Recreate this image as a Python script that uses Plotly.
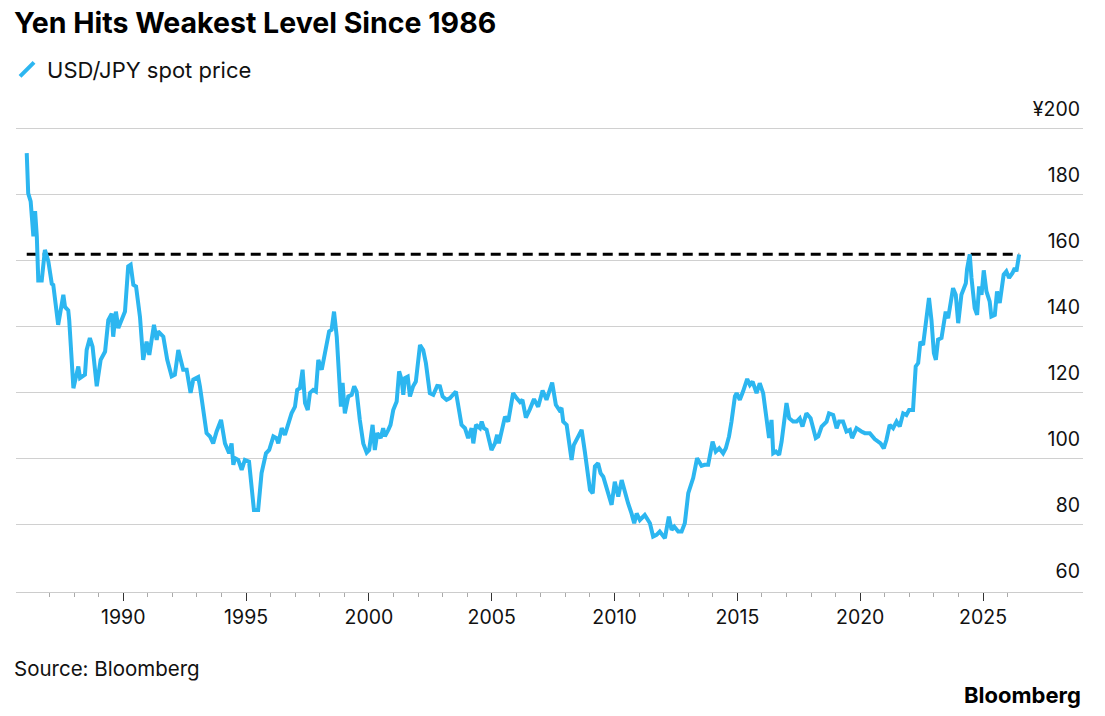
import plotly.graph_objects as go

# ---- data ----
years = [
    1986.07, 1986.13, 1986.23, 1986.34, 1986.41, 1986.48, 1986.54, 1986.68, 1986.81, 1986.95,
    1987.09, 1987.15, 1987.35, 1987.56, 1987.63, 1987.76, 1987.80, 1987.97, 1988.17, 1988.24,
    1988.44, 1988.51, 1988.64, 1988.75, 1988.92, 1989.08, 1989.26, 1989.39, 1989.53, 1989.59,
    1989.70, 1989.80, 1990.07, 1990.20, 1990.30, 1990.41, 1990.52, 1990.68, 1990.81, 1990.95,
    1991.06, 1991.25, 1991.36, 1991.42, 1991.63, 1991.79, 1991.97, 1992.10, 1992.24, 1992.44,
    1992.58, 1992.74, 1992.85, 1993.05, 1993.12, 1993.39, 1993.53, 1993.66, 1993.80, 1993.98,
    1994.14, 1994.31, 1994.41, 1994.48, 1994.55, 1994.68, 1994.82, 1994.95, 1995.12, 1995.23,
    1995.32, 1995.49, 1995.63, 1995.81, 1995.94, 1996.11, 1996.24, 1996.31, 1996.45, 1996.58,
    1996.72, 1996.85, 1996.99, 1997.08, 1997.19, 1997.30, 1997.40, 1997.51, 1997.60, 1997.73,
    1997.84, 1997.94, 1998.08, 1998.25, 1998.38, 1998.48, 1998.58, 1998.69, 1998.79, 1998.86,
    1998.93, 1999.02, 1999.16, 1999.30, 1999.40, 1999.50, 1999.63, 1999.77, 1999.91, 2000.01,
    2000.15, 2000.24, 2000.34, 2000.48, 2000.58, 2000.65, 2000.79, 2000.88, 2000.99, 2001.13,
    2001.23, 2001.33, 2001.40, 2001.47, 2001.58, 2001.67, 2001.80, 2001.91, 2002.08, 2002.21,
    2002.32, 2002.48, 2002.62, 2002.78, 2002.89, 2003.00, 2003.16, 2003.30, 2003.54, 2003.77,
    2003.91, 2004.04, 2004.18, 2004.25, 2004.36, 2004.52, 2004.59, 2004.68, 2004.79, 2004.99,
    2005.13, 2005.22, 2005.29, 2005.44, 2005.54, 2005.67, 2005.87, 2006.01, 2006.15, 2006.25,
    2006.39, 2006.55, 2006.72, 2006.89, 2007.07, 2007.23, 2007.46, 2007.61, 2007.75, 2007.84,
    2007.91, 2008.05, 2008.25, 2008.34, 2008.45, 2008.66, 2008.79, 2009.00, 2009.11, 2009.20,
    2009.33, 2009.43, 2009.54, 2009.67, 2009.78, 2009.88, 2010.01, 2010.15, 2010.29, 2010.42,
    2010.55, 2010.69, 2010.80, 2010.90, 2011.03, 2011.23, 2011.44, 2011.57, 2011.71, 2011.84,
    2012.05, 2012.21, 2012.32, 2012.43, 2012.59, 2012.73, 2012.86, 2013.00, 2013.13, 2013.20,
    2013.36, 2013.54, 2013.66, 2013.81, 2013.99, 2014.12, 2014.26, 2014.42, 2014.53, 2014.66,
    2014.76, 2014.90, 2014.97, 2015.10, 2015.23, 2015.40, 2015.51, 2015.62, 2015.78, 2015.91,
    2016.05, 2016.19, 2016.29, 2016.39, 2016.46, 2016.57, 2016.70, 2016.80, 2016.93, 2017.00,
    2017.11, 2017.27, 2017.41, 2017.54, 2017.65, 2017.81, 2017.98, 2018.19, 2018.29, 2018.43,
    2018.63, 2018.73, 2018.90, 2019.04, 2019.14, 2019.30, 2019.44, 2019.58, 2019.67, 2019.85,
    2020.05, 2020.19, 2020.39, 2020.59, 2020.83, 2020.96, 2021.07, 2021.20, 2021.34, 2021.48,
    2021.61, 2021.75, 2021.88, 2021.99, 2022.15, 2022.26, 2022.36, 2022.45, 2022.56, 2022.67,
    2022.80, 2022.90, 2023.00, 2023.08, 2023.17, 2023.31, 2023.48, 2023.58, 2023.78, 2023.89,
    2023.99, 2024.12, 2024.30, 2024.35, 2024.46, 2024.53, 2024.66, 2024.76, 2024.84, 2024.94,
    2025.03, 2025.14, 2025.27, 2025.34, 2025.48, 2025.57, 2025.68, 2025.84, 2025.95, 2026.06,
    2026.20, 2026.29, 2026.36, 2026.47,
]
usdjpy = [
    192.6, 180.4, 178.0, 167.4, 175.0, 167.4, 154.0, 154.0, 163.3, 159.8,
    153.0, 152.7, 140.6, 149.7, 146.0, 145.0, 142.0, 121.4, 128.0, 124.5,
    125.5, 133.0, 136.6, 134.0, 122.0, 130.0, 132.5, 142.0, 144.0, 137.0,
    144.6, 139.6, 144.6, 158.3, 158.8, 152.7, 152.2, 143.0, 130.0, 135.5,
    131.5, 140.6, 136.0, 138.6, 137.0, 130.0, 125.0, 125.5, 133.0, 127.0,
    127.0, 120.0, 124.0, 124.8, 122.0, 107.8, 106.8, 104.7, 108.3, 111.8,
    104.7, 101.7, 104.7, 98.2, 100.2, 99.7, 96.7, 99.7, 99.2, 90.6,
    84.5, 84.5, 95.7, 101.7, 102.7, 106.8, 106.3, 104.7, 109.3, 107.3,
    110.8, 113.8, 115.8, 120.9, 121.4, 127.0, 116.9, 114.8, 120.0, 120.9,
    120.4, 130.0, 127.0, 133.0, 138.6, 139.1, 144.6, 137.0, 124.0, 115.8,
    123.0, 113.8, 118.9, 119.4, 122.0, 120.4, 111.8, 104.7, 101.9, 102.7,
    110.3, 102.7, 107.8, 106.3, 109.3, 106.8, 108.8, 110.3, 114.8, 117.4,
    126.5, 124.0, 119.4, 124.5, 124.9, 118.9, 122.0, 123.4, 134.5, 133.0,
    129.0, 119.9, 119.4, 122.1, 122.0, 118.9, 117.9, 118.4, 120.4, 110.3,
    109.3, 106.3, 109.3, 104.7, 110.3, 109.3, 111.3, 109.3, 108.8, 102.7,
    104.7, 107.3, 104.7, 109.8, 112.8, 111.3, 119.9, 118.4, 117.2, 117.9,
    112.5, 115.0, 118.1, 115.8, 120.7, 117.9, 123.1, 116.4, 114.8, 115.4,
    111.3, 110.3, 99.7, 104.2, 105.8, 108.8, 102.2, 90.6, 89.6, 97.7,
    98.7, 95.7, 94.6, 91.1, 89.1, 86.1, 93.1, 88.6, 93.6, 89.6,
    86.6, 83.5, 80.5, 83.5, 81.5, 83.0, 80.5, 76.5, 77.0, 78.0,
    76.0, 82.5, 78.5, 79.5, 78.0, 78.0, 80.5, 89.6, 92.1, 94.2,
    100.2, 97.9, 98.2, 98.2, 105.2, 102.2, 103.2, 101.7, 103.2, 106.8,
    111.3, 118.9, 119.9, 117.9, 120.4, 124.2, 122.4, 123.4, 119.9, 122.9,
    119.9, 112.3, 106.3, 111.8, 101.7, 102.2, 101.2, 105.2, 113.8, 116.9,
    112.3, 111.3, 111.3, 112.3, 109.8, 113.8, 112.3, 106.3, 106.8, 109.8,
    111.3, 113.8, 113.3, 109.3, 111.3, 111.3, 108.3, 108.8, 106.3, 109.3,
    108.3, 107.8, 107.8, 106.0, 104.7, 103.2, 105.8, 110.3, 109.3, 111.3,
    109.8, 113.8, 113.3, 114.8, 114.8, 128.0, 129.0, 135.5, 134.5, 140.1,
    148.7, 142.1, 132.0, 130.0, 136.1, 136.6, 144.6, 142.6, 151.7, 149.7,
    141.1, 149.7, 153.2, 157.5, 161.9, 154.8, 145.7, 143.6, 152.2, 149.7,
    157.1, 150.7, 147.7, 143.1, 143.6, 150.7, 147.2, 155.8, 156.8, 154.8,
    156.3, 157.8, 156.8, 161.9,
]
prev_high = 161.95
y_ticks = [60, 80, 100, 120, 140, 160, 180, 200]
y_tick_labels = ["60", "80", "100", "120", "140", "160", "180", "¥200"]
x_major = [1990, 1995, 2000, 2005, 2010, 2015, 2020, 2025]
x_minor = [y for y in range(1987, 2027) if y % 5 != 0]

BLUE = "#2cb6f0"
FONT = "Inter"

fig = go.Figure()
fig.add_trace(go.Scatter(
    x=[years[0], years[-1]], y=[prev_high, prev_high], mode="lines",
    line=dict(color="#000000", width=3, dash="10px,6px"),
    showlegend=False, hoverinfo="skip"))
fig.add_trace(go.Scatter(
    x=years, y=usdjpy, mode="lines",
    line=dict(color=BLUE, width=4), showlegend=False))
fig.add_trace(go.Scatter(
    x=[None], y=[None], mode="markers", name="USD/JPY spot price",
    marker=dict(symbol="line-ne", size=14, color=BLUE,
                line=dict(color=BLUE, width=4)),
    showlegend=True))

fig.update_layout(
    width=1105, height=716,
    margin=dict(l=16, r=22, t=89.4, b=124, autoexpand=False),
    paper_bgcolor="white", plot_bgcolor="white",
    font=dict(family=FONT, color="#111111", size=19),
    legend=dict(x=-0.0084, y=1.0386, xanchor="left", yanchor="middle",
                font=dict(size=22, family=FONT, color="#111111"),
                bgcolor="rgba(0,0,0,0)", itemwidth=30),
    xaxis=dict(range=[1985.633, 2029.07], showgrid=False, zeroline=False,
               showline=True, linecolor="#cccccc", linewidth=1,
               tickmode="array", tickvals=x_major,
               ticktext=[str(v) for v in x_major],
               ticks="outside", ticklen=8, tickcolor="#333333", tickwidth=1,
               tickfont=dict(size=19.5, family=FONT, color="#111111"),
               minor=dict(tickmode="array", tickvals=x_minor, ticks="outside",
                          ticklen=4, tickcolor="#aaaaaa", tickwidth=1,
                          showgrid=False)),
    yaxis=dict(range=[59.7, 212], side="right", showgrid=True,
               gridcolor="#d0d0d0", gridwidth=1, zeroline=False,
               tickmode="array", tickvals=y_ticks, ticktext=y_tick_labels,
               ticklabelposition="inside top", ticklabelshift=-6, ticks="",
               tickfont=dict(size=19.5, family=FONT, color="#111111")),
    annotations=[
        dict(text="<b>Yen Hits Weakest Level Since 1986</b>", xref="paper", yref="paper",
             x=-0.0033, y=1.1321, xanchor="left", yanchor="middle", showarrow=False,
             font=dict(size=28.5, family=FONT, color="#000000")),
        dict(text="Source: Bloomberg", xref="paper", yref="paper",
             x=-0.0033, y=-0.1512, xanchor="left", yanchor="middle", showarrow=False,
             font=dict(size=20.5, family=FONT, color="#111111")),
        dict(text="<b>Bloomberg</b>", xref="paper", yref="paper",
             x=1.0, y=-0.2049, xanchor="right", yanchor="middle", showarrow=False,
             font=dict(size=22, family=FONT, color="#000000")),
    ],
)

fig.write_html("out.html")
